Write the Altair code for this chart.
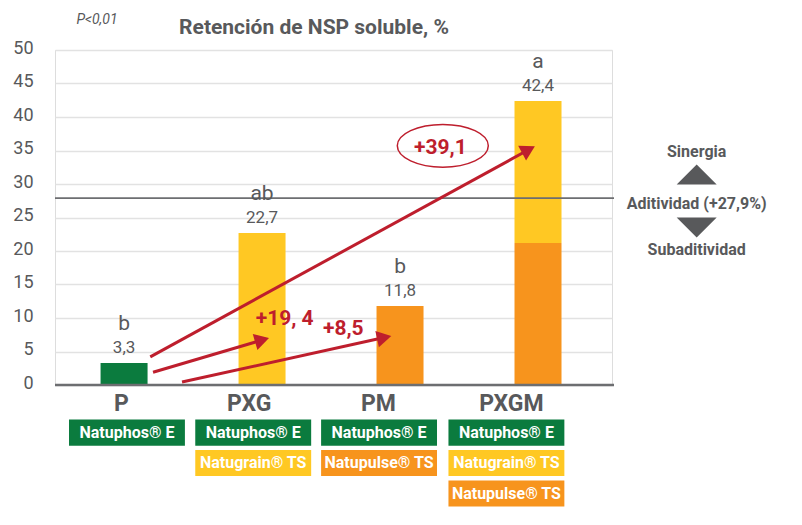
import math
import altair as alt
import pandas as pd

# ---------------- data ----------------
groups = ["P", "PXG", "PM", "PXGM"]
totals = [3.3, 22.7, 11.8, 42.4]
total_labels = ["3,3", "22,7", "11,8", "42,4"]
letters = ["b", "ab", "b", "a"]

seg_group = ["P", "PXG", "PM", "PXGM", "PXGM"]
seg_product = ["Natuphos® E", "Natugrain® TS", "Natupulse® TS", "Natupulse® TS", "Natugrain® TS"]
seg_low = [0, 0, 0, 0, 21.2]
seg_high = [3.3, 22.7, 11.8, 21.2, 42.4]

products = ["Natuphos® E", "Natugrain® TS", "Natupulse® TS"]
product_colors = ["#0b7b3e", "#ffc823", "#f7941d"]

# products listed under each group
combo = {
    "P": ["Natuphos® E"],
    "PXG": ["Natuphos® E", "Natugrain® TS"],
    "PM": ["Natuphos® E", "Natupulse® TS"],
    "PXGM": ["Natuphos® E", "Natugrain® TS", "Natupulse® TS"],
}

additivity = 27.9
y_ticks = [0, 5, 10, 15, 20, 25, 30, 35, 40, 45, 50]

# arrows (x = group index, y = %)
arrow_x0 = [0.19, 0.21, 0.42]
arrow_y0 = [4.2, 1.9, 0.45]
arrow_x1 = [2.975, 1.048, 1.934]
arrow_y1 = [35.6, 7.0, 7.3]
gain_labels = ["+39,1", "+19, 4", "+8,5"]
gain_x = [2.293, 1.164, 1.589]
gain_y = [35.4, 9.8, 8.4]

# ---------------- layout ----------------
X0 = -0.5 + 5 / 140.0
W, H = 557, 335
PX = W / (3.5 - X0)
PY = H / 50.0
FONT = "Roboto, Liberation Sans, sans-serif"
GREY = "#58595b"
RED = "#be1e2d"

xs = alt.Scale(domain=[X0, 3.5], nice=False, zero=False)
ys = alt.Scale(domain=[0, 50], nice=False)
YAX = alt.Axis(values=y_ticks, grid=True, gridColor="#e2e2e2", gridWidth=1.6, domain=False,
               ticks=False, labelFontSize=18, labelColor=GREY, labelFont=FONT, labelPadding=22,
               labelOffset=-2, labelOverlap=False, title=None)


def X(f):
    return alt.X(f, scale=xs, axis=None)


def Y(f):
    return alt.Y(f, scale=ys, axis=YAX, title=None)


idx = {g: i for i, g in enumerate(groups)}

seg_df = pd.DataFrame({
    "x": [idx[g] for g in seg_group],
    "low": seg_low, "high": seg_high, "product": seg_product,
})
tot_df = pd.DataFrame({"x": list(range(4)), "total": totals,
                       "lab": total_labels, "letter": letters})

bars = alt.Chart(seg_df).mark_bar(size=47).encode(
    x=X("x:Q"), y=Y("low:Q"), y2="high:Q",
    color=alt.Color("product:N", scale=alt.Scale(domain=products, range=product_colors), legend=None),
)

val_text = alt.Chart(tot_df).mark_text(font=FONT, fontSize=17, color=GREY, dy=-15,
                                        baseline="middle").encode(
    x=X("x:Q"), y=Y("total:Q"), text="lab:N")
let_text = alt.Chart(tot_df).mark_text(font=FONT, fontSize=21, color=GREY, dy=-39,
                                        baseline="middle").encode(
    x=X("x:Q"), y=Y("total:Q"), text="letter:N")

# baseline and additivity line
base_rule = alt.Chart(pd.DataFrame({"y": [0]})).mark_rule(color="#6d6e71", strokeWidth=2.5).encode(
    y=Y("y:Q"), x=alt.value(0), x2=alt.value(W + 2))
add_rule = alt.Chart(pd.DataFrame({"y": [additivity]})).mark_rule(color="#6d6e71", strokeWidth=1.8).encode(
    y=Y("y:Q"), x=alt.value(0), x2=alt.value(W + 2))

# arrows
rows = []
for x0, y0, x1, y1 in zip(arrow_x0, arrow_y0, arrow_x1, arrow_y1):
    dxp = (x1 - x0) * PX
    dyp = -(y1 - y0) * PY
    L = math.hypot(dxp, dyp)
    ux, uy = dxp / L, dyp / L
    back = 7.0
    hx = x1 - ux * back / PX
    hy = y1 + uy * back / PY
    ang = math.degrees(math.atan2(dxp, -dyp)) % 360
    rows.append({"x0": x0, "y0": y0, "hx": hx, "hy": hy, "ang": ang})
arr_df = pd.DataFrame(rows)

arrow_lines = alt.Chart(arr_df).mark_rule(color=RED, strokeWidth=3).encode(
    x=X("x0:Q"), y=Y("y0:Q"), x2="hx:Q", y2="hy:Q")
arrow_heads = alt.Chart(arr_df).mark_point(shape="triangle-up", filled=True, color=RED,
                                           size=280, opacity=1).encode(
    x=X("hx:Q"), y=Y("hy:Q"), angle=alt.Angle("ang:Q", scale=None))

gain_df = pd.DataFrame({"x": gain_x, "y": gain_y, "t": gain_labels})
gain_text = alt.Chart(gain_df).mark_text(font=FONT, fontSize=21, fontWeight="bold", color=RED,
                                          baseline="middle").encode(
    x=X("x:Q"), y=Y("y:Q"), text="t:N")

ell_df = pd.DataFrame({"x": [2.31], "y": [35.7]})
ellipse = alt.Chart(ell_df).mark_point(
    shape="M -1 0 A 1 0.47 0 1 1 1 0 A 1 0.47 0 1 1 -1 0 Z",
    size=91 * 91, filled=False, color=RED, strokeWidth=1.5, opacity=1).encode(
    x=X("x:Q"), y=Y("y:Q"))

# right-hand legend of additivity
side_x = 4.15
side_text_df = pd.DataFrame({"x": [side_x] * 3, "y": [34.8, 27.0, 20.2],
                             "t": ["Sinergia", "Aditividad (+27,9%)", "Subaditividad"]})
side_text = alt.Chart(side_text_df).mark_text(font=FONT, fontSize=16, fontWeight="bold",
                                               color=GREY, baseline="middle").encode(
    x=X("x:Q"), y=Y("y:Q"), text="t:N")
tri_up = alt.Chart(pd.DataFrame({"x": [side_x], "y": [31.4]})).mark_point(
    shape="M 0 -0.5 L 1 0.5 L -1 0.5 Z", size=1600, filled=True, color=GREY, opacity=1).encode(
    x=X("x:Q"), y=Y("y:Q"))
tri_dn = alt.Chart(pd.DataFrame({"x": [side_x], "y": [23.5]})).mark_point(
    shape="M 0 0.5 L 1 -0.5 L -1 -0.5 Z", size=1600, filled=True, color=GREY, opacity=1).encode(
    x=X("x:Q"), y=Y("y:Q"))

# group labels and product boxes below the axis
label_x = [-0.02, 0.907, 1.843, 2.807]
box_cx = [0.021, 0.936, 1.848, 2.771]
row_center = [-7.1, -11.65, -16.2]
box_half_w = 0.42
box_half_h = 1.95

glab_df = pd.DataFrame({"x": label_x, "y": [-2.9] * 4, "t": groups})
glab = alt.Chart(glab_df).mark_text(font=FONT, fontSize=23, fontWeight="bold", color=GREY,
                                     baseline="middle").encode(
    x=X("x:Q"), y=Y("y:Q"), text="t:N")

brows = []
for gi, g in enumerate(groups):
    for r, p in enumerate(combo[g]):
        brows.append({"x1": box_cx[gi] - box_half_w, "x2": box_cx[gi] + box_half_w,
                      "y1": row_center[r] - box_half_h, "y2": row_center[r] + box_half_h,
                      "xc": box_cx[gi], "yc": row_center[r], "product": p})
box_df = pd.DataFrame(brows)
boxes = alt.Chart(box_df).mark_rect().encode(
    x=X("x1:Q"), x2="x2:Q", y=Y("y1:Q"), y2="y2:Q",
    color=alt.Color("product:N", scale=alt.Scale(domain=products, range=product_colors), legend=None))
box_text = alt.Chart(box_df).mark_text(font=FONT, fontSize=16, fontWeight="bold", color="white",
                                        baseline="middle").encode(
    x=X("xc:Q"), y=Y("yc:Q"), text="product:N")

# titles
title_txt = alt.Chart(pd.DataFrame({"t": ["Retención de NSP soluble, %"]})).mark_text(
    font=FONT, fontSize=21, fontWeight="bold", color=GREY, baseline="middle").encode(
    x=alt.value(259), y=alt.value(-22), text="t:N")
p_txt = alt.Chart(pd.DataFrame({"t": ["P<0,01"]})).mark_text(
    font=FONT, fontSize=14, fontStyle="italic", color=GREY, baseline="middle").encode(
    x=alt.value(42), y=alt.value(-30), text="t:N")

chart = alt.layer(
    bars, add_rule, base_rule, val_text, let_text, arrow_lines, arrow_heads, gain_text, ellipse,
    side_text, tri_up, tri_dn, glab, boxes, box_text, title_txt, p_txt,
).properties(
    width=W, height=H,
    autosize=alt.AutoSizeParams(type="none"),
    padding={"left": 55, "top": 50, "right": 190, "bottom": 140},
).configure_view(stroke=None).configure(background="white")

chart.save("out.html", embed_options={"renderer": "svg", "actions": False})
